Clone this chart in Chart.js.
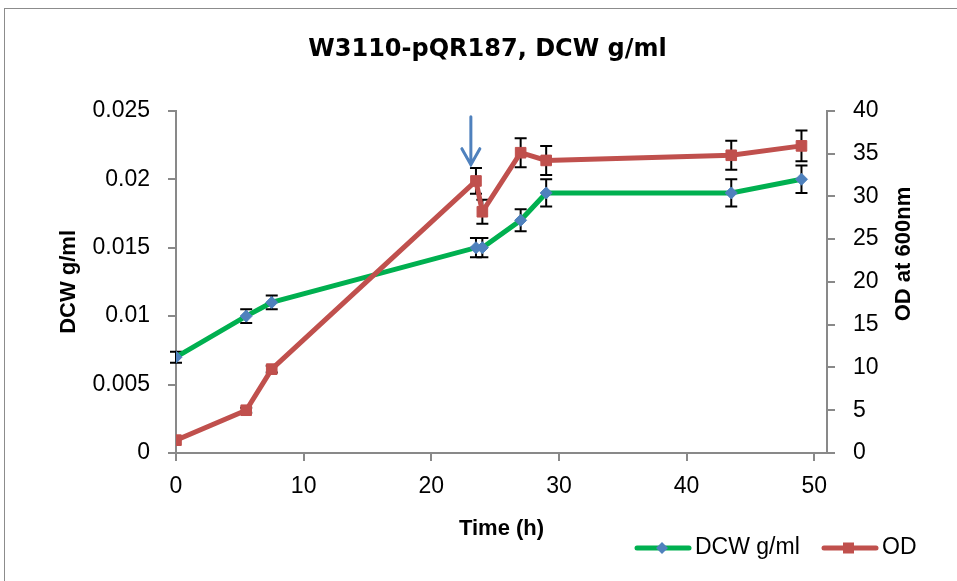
<!DOCTYPE html>
<html>
<head>
<meta charset="utf-8">
<title>W3110-pQR187, DCW g/ml</title>
<script src="https://cdn.jsdelivr.net/npm/chart.js@4.4.1/dist/chart.umd.min.js"></script>
<style>
  html, body { margin: 0; padding: 0; background: #fff; }
  canvas { display: block; }
</style>
</head>
<body>
<canvas id="chart" width="957" height="581"></canvas>
<script>
// data
const timeH = [0, 5.5, 7.5, 23.5, 24, 27, 29, 43.5, 49];
const dcw = [0.007, 0.010, 0.011, 0.015, 0.015, 0.017, 0.019, 0.019, 0.020];
const dcwErr = [0.0004, 0.0005, 0.0005, 0.0007, 0.0007, 0.0008, 0.001, 0.001, 0.001];
const od = [1.5, 5.0, 9.8, 31.8, 28.2, 35.1, 34.2, 34.8, 35.9];
const odErr = [0, 0.3, 0.4, 1.5, 1.4, 1.7, 1.7, 1.7, 1.8];

const timeTicks = [0, 10, 20, 30, 40, 50];
const dcwTicks = [0, 0.005, 0.01, 0.015, 0.02, 0.025];
const odTicks = [0, 5, 10, 15, 20, 25, 30, 35, 40];

// arrow marking the induction point (time, OD from -> OD to)
const arrowTime = 23.1;
const arrowFrom = 39.3;
const arrowTo = 33.7;

const GREEN = '#00B050';
const RED = '#C0504D';
const BLUE = '#4F81BD';
const AXIS = '#898989';

Chart.defaults.font.family = '"Liberation Sans", Arial, sans-serif';
Chart.defaults.color = '#000';

const errs = [dcwErr, odErr];

// error bars, drawn under the lines
const errorBars = {
  id: 'errorBars',
  beforeDatasetsDraw(chart) {
    const ctx = chart.ctx;
    const xs = chart.scales.x;
    ctx.save();
    ctx.strokeStyle = '#000';
    ctx.lineWidth = 2;
    chart.data.datasets.forEach((ds, i) => {
      const ys = chart.scales[ds.yAxisID];
      ds.data.forEach((p, j) => {
        const e = errs[i][j];
        if (!e) return;
        const x = xs.getPixelForValue(p.x);
        const top = ys.getPixelForValue(p.y + e);
        const bot = ys.getPixelForValue(p.y - e);
        ctx.beginPath();
        ctx.moveTo(x, top); ctx.lineTo(x, bot);
        ctx.moveTo(x - 6, top); ctx.lineTo(x + 6, top);
        ctx.moveTo(x - 6, bot); ctx.lineTo(x + 6, bot);
        ctx.stroke();
      });
    });
    ctx.restore();
  }
};

// frame, arrow, right axis title and legend
const extras = {
  id: 'extras',
  afterDraw(chart) {
    const ctx = chart.ctx;
    ctx.save();

    ctx.strokeStyle = '#8c8c8c';
    ctx.lineWidth = 1;
    ctx.strokeRect(4.5, 8.5, 1000, 1000);

    // arrow
    const ax = chart.scales.x.getPixelForValue(arrowTime);
    const ay1 = chart.scales.y1.getPixelForValue(arrowFrom);
    const ay2 = chart.scales.y1.getPixelForValue(arrowTo);
    ctx.strokeStyle = BLUE;
    ctx.lineWidth = 3;
    ctx.lineCap = 'round';
    ctx.beginPath();
    ctx.moveTo(ax, ay1); ctx.lineTo(ax, ay2);
    ctx.moveTo(ax - 9, ay2 - 16); ctx.lineTo(ax, ay2); ctx.lineTo(ax + 9, ay2 - 16);
    ctx.stroke();

    // right axis title, reading bottom to top
    ctx.fillStyle = '#000';
    ctx.font = 'bold 22px "Liberation Sans", Arial, sans-serif';
    ctx.textAlign = 'center';
    ctx.textBaseline = 'middle';
    ctx.translate(904, 254);
    ctx.rotate(-Math.PI / 2);
    ctx.fillText('OD at 600nm', 0, 0);
    ctx.setTransform(1, 0, 0, 1, 0, 0);

    // legend
    const ly = 548;
    ctx.lineCap = 'round';
    ctx.lineWidth = 5;
    ctx.strokeStyle = GREEN;
    ctx.beginPath(); ctx.moveTo(637, ly); ctx.lineTo(689, ly); ctx.stroke();
    ctx.fillStyle = BLUE;
    ctx.beginPath();
    ctx.moveTo(662, ly - 6); ctx.lineTo(668, ly); ctx.lineTo(662, ly + 6); ctx.lineTo(656, ly);
    ctx.closePath(); ctx.fill();
    ctx.strokeStyle = RED;
    ctx.beginPath(); ctx.moveTo(824, ly); ctx.lineTo(876, ly); ctx.stroke();
    ctx.fillStyle = RED;
    ctx.fillRect(843, ly - 5.5, 11, 11);

    ctx.fillStyle = '#000';
    ctx.font = '23px "Liberation Sans", Arial, sans-serif';
    ctx.textAlign = 'left';
    ctx.fillText('DCW g/ml', 695, ly);
    ctx.fillText('OD', 882, ly);
    ctx.restore();
  }
};

const axisLook = {
  border: { color: AXIS, width: 2 },
  grid: { drawOnChartArea: false, color: AXIS, lineWidth: 2, tickLength: 8 }
};

new Chart(document.getElementById('chart'), {
  type: 'line',
  data: {
    datasets: [
      {
        label: 'DCW g/ml',
        data: timeH.map((t, i) => ({ x: t, y: dcw[i] })),
        yAxisID: 'y',
        borderColor: GREEN,
        borderWidth: 5,
        pointStyle: 'rectRot',
        pointRadius: 6,
        pointBackgroundColor: BLUE,
        pointBorderColor: BLUE,
        pointBorderWidth: 1,
        tension: 0,
        order: 2
      },
      {
        label: 'OD',
        data: timeH.map((t, i) => ({ x: t, y: od[i] })),
        yAxisID: 'y1',
        borderColor: RED,
        borderWidth: 5,
        pointStyle: 'rect',
        pointRadius: 7.5,
        pointBackgroundColor: RED,
        pointBorderColor: RED,
        pointBorderWidth: 1,
        tension: 0,
        order: 1
      }
    ]
  },
  options: {
    responsive: false,
    animation: false,
    layout: { padding: { left: 42, right: 24, top: 0, bottom: 0 } },
    plugins: {
      legend: { display: false },
      tooltip: { enabled: false },
      title: {
        display: true,
        text: 'W3110-pQR187, DCW g/ml',
        font: { family: '"DejaVu Sans", sans-serif', size: 24, weight: 'bold' },
        padding: { top: 35, bottom: 47 }
      }
    },
    scales: {
      x: {
        type: 'linear',
        min: 0,
        max: 51,
        ...axisLook,
        afterBuildTicks: s => { s.ticks = timeTicks.map(v => ({ value: v })); },
        afterFit: s => { s.height = 128; },
        ticks: { font: { size: 23 }, padding: 12, maxRotation: 0 },
        title: {
          display: true,
          text: 'Time (h)',
          font: { size: 22, weight: 'bold' },
          padding: { top: 0, bottom: 39 }
        }
      },
      y: {
        type: 'linear',
        position: 'left',
        min: 0,
        max: 0.025,
        ...axisLook,
        afterBuildTicks: s => { s.ticks = dcwTicks.map(v => ({ value: v })); },
        afterFit: s => { s.width = 134; },
        ticks: { font: { size: 23 }, padding: 18, callback: v => String(v) },
        title: {
          display: true,
          text: 'DCW g/ml',
          font: { size: 22, weight: 'bold' },
          padding: { top: 14, bottom: 0 }
        }
      },
      y1: {
        type: 'linear',
        position: 'right',
        min: 0,
        max: 40,
        ...axisLook,
        afterBuildTicks: s => { s.ticks = odTicks.map(v => ({ value: v })); },
        afterFit: s => { s.width = 106; },
        ticks: { font: { size: 23 }, padding: 18, callback: v => String(v) }
      }
    }
  },
  plugins: [errorBars, extras]
});
</script>
</body>
</html>
